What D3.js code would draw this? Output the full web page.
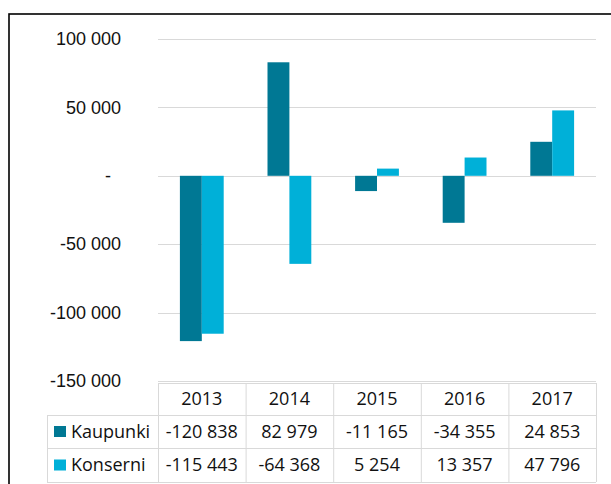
<!DOCTYPE html>
<html>
<head>
<meta charset="utf-8">
<script src="https://cdn.jsdelivr.net/npm/d3@7"></script>
<style>
  body { margin: 0; background: #fff; }
  svg { font-family: "Open Sans", "Noto Sans", sans-serif; }
  .tick text, .cell { font-size: 18px; fill: #111; }
</style>
</head>
<body>
<svg id="chart" width="611" height="484"></svg>
<script>
// chart data
var years = ["2013", "2014", "2015", "2016", "2017"];
var seriesNames = ["Kaupunki", "Konserni"];
var kaupunki = [-120838, 82979, -11165, -34355, 24853];
var konserni = [-115443, -64368, 5254, 13357, 47796];
var yTicks = [100000, 50000, 0, -50000, -100000, -150000];
var colors = ["#007894", "#00b0d8"];

var svg = d3.select("#chart");

// outer frame (clipped by the window on the right/bottom)
svg.append("rect")
    .attr("x", 9).attr("y", 14)
    .attr("width", 700).attr("height", 600)
    .attr("fill", "none")
    .attr("stroke", "#000")
    .attr("stroke-width", 1.6);

var plot = {left: 158, right: 596, top: 39, bottom: 381};

var x = d3.scaleBand().domain(years)
    .range([plot.left, plot.right])
    .paddingInner(0.5).paddingOuter(0.25);
var xCol = d3.scaleBand().domain(years).range([plot.left, plot.right]);
var xSub = d3.scaleBand().domain(seriesNames).range([0, x.bandwidth()]);

var y = d3.scaleLinear().domain([-150000, 100000]).range([plot.bottom, plot.top]);

var fmt = function (v) {
    if (v === 0) return "-";
    return d3.format(",")(v).replace(/,/g, " ").replace("\u2212", "-");
};

// gridlines
svg.append("g").selectAll("line").data(yTicks).enter().append("line")
    .attr("x1", plot.left).attr("x2", plot.right)
    .attr("y1", function (d) { return Math.round(y(d)) + 0.5; })
    .attr("y2", function (d) { return Math.round(y(d)) + 0.5; })
    .attr("stroke", "#d9d9d9")
    .attr("stroke-width", 1);

// y axis labels
var yAxis = svg.append("g")
    .attr("transform", "translate(121,0)")
    .call(d3.axisLeft(y).tickValues(yTicks).tickFormat(fmt).tickSize(0).tickPadding(0));
yAxis.select(".domain").remove();
yAxis.selectAll(".tick text")
    .attr("dx", function (d) { return d === 0 ? -10 : 0; });

// bars
var data = years.map(function (yr, i) {
    return {year: yr, values: [
        {name: seriesNames[0], v: kaupunki[i]},
        {name: seriesNames[1], v: konserni[i]}
    ]};
});

var groups = svg.append("g").selectAll("g").data(data).enter().append("g")
    .attr("transform", function (d) { return "translate(" + x(d.year) + ",0)"; });

groups.selectAll("rect").data(function (d) { return d.values; }).enter().append("rect")
    .attr("x", function (d) { return xSub(d.name); })
    .attr("width", xSub.bandwidth())
    .attr("y", function (d) { return y(Math.max(0, d.v)); })
    .attr("height", function (d) { return Math.abs(y(d.v) - y(0)); })
    .attr("fill", function (d, i) { return colors[i]; });

// data table
var rowTop = [383, 415, 448, 482];
var tableLeft = 47;
var table = svg.append("g");
var border = "#d9d9d9";

// horizontal lines
table.append("line")
    .attr("x1", plot.left).attr("x2", plot.right)
    .attr("y1", rowTop[0] + 0.5).attr("y2", rowTop[0] + 0.5)
    .attr("stroke", border);
rowTop.slice(1).forEach(function (ry) {
    table.append("line")
        .attr("x1", tableLeft).attr("x2", plot.right)
        .attr("y1", ry + 0.5).attr("y2", ry + 0.5)
        .attr("stroke", border);
});
// vertical lines
table.append("line")
    .attr("x1", tableLeft + 0.5).attr("x2", tableLeft + 0.5)
    .attr("y1", rowTop[1]).attr("y2", rowTop[3])
    .attr("stroke", border);
years.concat(["end"]).forEach(function (yr, i) {
    var vx = i < years.length ? xCol(yr) : plot.right;
    table.append("line")
        .attr("x1", vx + 0.5).attr("x2", vx + 0.5)
        .attr("y1", rowTop[0]).attr("y2", rowTop[3])
        .attr("stroke", border);
});

// header years
table.selectAll("text.year").data(years).enter().append("text")
    .attr("class", "cell year")
    .attr("x", function (d) { return xCol(d) + xCol.bandwidth() / 2; })
    .attr("y", (rowTop[0] + rowTop[1]) / 2)
    .attr("dy", "0.35em")
    .attr("text-anchor", "middle")
    .text(function (d) { return d; });

// series rows
[kaupunki, konserni].forEach(function (vals, r) {
    var cy = (rowTop[r + 1] + rowTop[r + 2]) / 2;
    table.append("rect")
        .attr("x", 54).attr("y", cy - 5.5)
        .attr("width", 12).attr("height", 11)
        .attr("fill", colors[r]);
    table.append("text")
        .attr("class", "cell")
        .attr("x", 71).attr("y", cy).attr("dy", "0.35em")
        .text(seriesNames[r]);
    table.selectAll("text.v" + r).data(vals).enter().append("text")
        .attr("class", "cell v" + r)
        .attr("x", function (d, i) { return xCol(years[i]) + xCol.bandwidth() / 2; })
        .attr("y", cy).attr("dy", "0.35em")
        .attr("text-anchor", "middle")
        .text(fmt);
});
</script>
</body>
</html>
